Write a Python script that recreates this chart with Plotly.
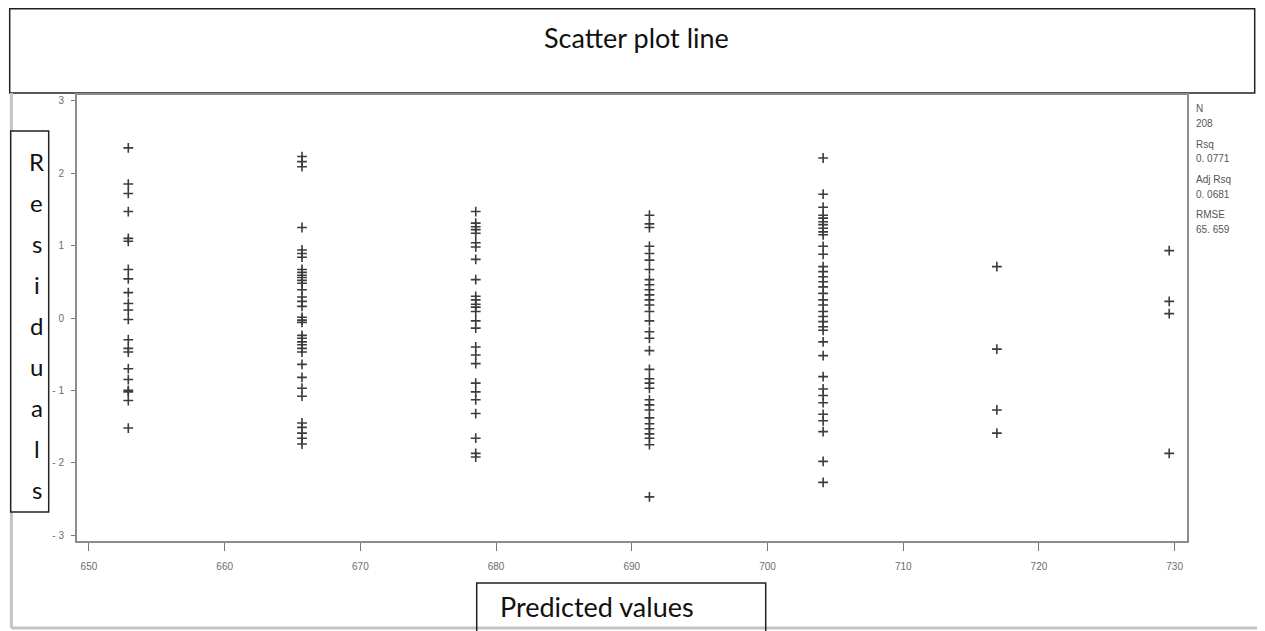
import plotly.graph_objects as go

# ---------------- data ----------------
pred_values = [652.9, 665.7, 678.5, 691.3, 704.1, 716.9, 729.6]

res_g1 = [2.35, 1.85, 1.72, 1.47, 1.10, 1.06, 0.67, 0.54, 0.35, 0.20, 0.11, -0.02,
          -0.30, -0.42, -0.47, -0.70, -0.85, -1.00, -1.02, -1.14, -1.52]
res_g2 = [2.23, 2.16, 2.09, 1.25, 0.94, 0.89, 0.84, 0.67, 0.63, 0.59, 0.56, 0.52,
          0.48, 0.39, 0.29, 0.23, 0.16, 0.01, -0.03, -0.06, -0.24, -0.28, -0.33,
          -0.37, -0.42, -0.47, -0.64, -0.82, -0.97, -1.08, -1.45, -1.51, -1.59,
          -1.66, -1.74]
res_g3 = [1.47, 1.31, 1.26, 1.22, 1.17, 1.04, 0.98, 0.81, 0.53, 0.30, 0.25, 0.19,
          0.15, 0.09, -0.04, -0.14, -0.40, -0.51, -0.63, -0.90, -1.02, -1.13,
          -1.32, -1.66, -1.87, -1.92]
res_g4 = [1.42, 1.30, 1.25, 0.99, 0.89, 0.80, 0.67, 0.53, 0.46, 0.39, 0.32, 0.25,
          0.18, 0.09, -0.04, -0.19, -0.28, -0.45, -0.71, -0.84, -0.90, -0.97,
          -1.13, -1.20, -1.27, -1.38, -1.46, -1.53, -1.60, -1.66, -1.75, -2.47]
res_g5 = [2.21, 1.71, 1.53, 1.42, 1.38, 1.33, 1.29, 1.24, 1.19, 1.15, 0.99, 0.88,
          0.71, 0.64, 0.57, 0.50, 0.43, 0.34, 0.25, 0.18, 0.09, 0.02, -0.05,
          -0.12, -0.17, -0.33, -0.52, -0.81, -0.98, -1.07, -1.17, -1.33, -1.42,
          -1.57, -1.98, -2.27]
res_g6 = [0.71, -0.43, -1.27, -1.59]
res_g7 = [0.93, 0.23, 0.06, -1.87]
residual_groups = [res_g1, res_g2, res_g3, res_g4, res_g5, res_g6, res_g7]

x_ticks = [650, 660, 670, 680, 690, 700, 710, 720, 730]
y_ticks = [-3, -2, -1, 0, 1, 2, 3]
y_ticktext = ["- 3", "- 2", "- 1", "0", "1", "2", "3"]

stat_names = ["N", "Rsq", "Adj Rsq", "RMSE"]
stat_values = ["208", "0. 0771", "0. 0681", "65. 659"]

title_text = "Scatter plot line"
y_title = "Residuals"
x_title = "Predicted values"

# ---------------- figure ----------------
OFF = 8                      # page body margin offset
PAGE_W, PAGE_H = 1265, 631
W, H = PAGE_W - OFF, PAGE_H - OFF
# plot-area edges in page pixels
P_L, P_R, P_T, P_B = 77.3, 1187.3, 95, 541
ML, MR, MT, MB = P_L - OFF, PAGE_W - P_R, P_T - OFF, PAGE_H - P_B
PW, PH = W - ML - MR, H - MT - MB


def px(x):
    return (x - OFF - ML) / PW


def py(y):
    return (H - MB - (y - OFF)) / PH


xs, ys = [], []
for pv, grp in zip(pred_values, residual_groups):
    for r in grp:
        xs.append(pv)
        ys.append(r)

fig = go.Figure()
fig.add_trace(go.Scatter(
    x=xs, y=ys, mode="markers",
    marker=dict(symbol="cross-thin", size=7,
                line=dict(width=1.6, color="#3c3c3c"), color="#3c3c3c"),
    showlegend=False, hoverinfo="x+y",
))

tick_font = dict(family="Liberation Sans, Arial, sans-serif", size=10, color="#6c6c6c")

fig.update_layout(
    width=W, height=H, autosize=False,
    margin=dict(l=ML, r=MR, t=MT, b=MB, pad=0),
    paper_bgcolor="white", plot_bgcolor="white",
    xaxis=dict(range=[649.12, 730.91], tickvals=x_ticks, ticks="outside",
               ticklen=8, tickwidth=1, tickcolor="#777",
               showline=True, linecolor="#8c8c8c", linewidth=2, mirror=True,
               showgrid=False, zeroline=False, tickfont=tick_font,
               ticklabelstandoff=7),
    yaxis=dict(range=[-3.08, 3.08], tickvals=y_ticks, ticktext=y_ticktext,
               ticks="outside", ticklen=4, tickwidth=1, tickcolor="#777",
               showline=True, linecolor="#8c8c8c", linewidth=2, mirror=True,
               showgrid=False, zeroline=False, tickfont=tick_font,
               ticklabelstandoff=5),
)

shapes = []
# page edge lines (screenshot frame)
shapes.append(dict(type="line", xref="paper", yref="paper",
                   x0=px(11.7), x1=px(11.7), y0=py(93), y1=py(628),
                   line=dict(color="#c4c4c4", width=3)))
shapes.append(dict(type="line", xref="paper", yref="paper",
                   x0=px(11.7), x1=px(1266), y0=py(628), y1=py(628),
                   line=dict(color="#c4c4c4", width=3)))
# title box
shapes.append(dict(type="rect", xref="paper", yref="paper",
                   x0=px(10), x1=px(1255), y0=py(93), y1=py(8.8),
                   line=dict(color="#222", width=1.5), fillcolor="white", layer="below"))
# residuals box
shapes.append(dict(type="rect", xref="paper", yref="paper",
                   x0=px(11), x1=px(49), y0=py(512), y1=py(131),
                   line=dict(color="#222", width=1.5), fillcolor="white"))
# predicted values box (open at the bottom, cut by page edge)
x0b, x1b, y0b, y1b = px(477), px(766), py(583), py(640)
shapes.append(dict(type="path", xref="paper", yref="paper",
                   path=f"M {x0b},{y1b} L {x0b},{y0b} L {x1b},{y0b} L {x1b},{y1b}",
                   line=dict(color="#222", width=1.5)))
fig.update_layout(shapes=shapes)

label_font = dict(family="Lato, Carlito, sans-serif", size=27, color="#111")
ann = []
ann.append(dict(text=title_text, xref="paper", yref="paper",
                x=px(637), y=py(37), xanchor="center", yanchor="middle",
                showarrow=False, font=label_font))
ann.append(dict(text=x_title, xref="paper", yref="paper",
                x=px(498), y=py(606), xanchor="left", yanchor="middle",
                showarrow=False, font=label_font))
for i, ch in enumerate(y_title):
    ann.append(dict(text=ch, xref="paper", yref="paper",
                    x=px(37), y=py(161.7 + i * 41.0), xanchor="center",
                    yanchor="middle", showarrow=False,
                    font=dict(family="Lato, Carlito, sans-serif", size=24, color="#111")))
stat_font = dict(family="Liberation Sans, Arial, sans-serif", size=10, color="#555")
for k, (nm, val) in enumerate(zip(stat_names, stat_values)):
    yl = 109 + k * 35.3
    ann.append(dict(text=nm, xref="paper", yref="paper", x=px(1194), y=py(yl),
                    xanchor="left", yanchor="middle", showarrow=False, font=stat_font))
    ann.append(dict(text=val, xref="paper", yref="paper", x=px(1194), y=py(yl + 14.5),
                    xanchor="left", yanchor="middle", showarrow=False, font=stat_font))
fig.update_layout(annotations=ann)

fig.write_html("out.html")
